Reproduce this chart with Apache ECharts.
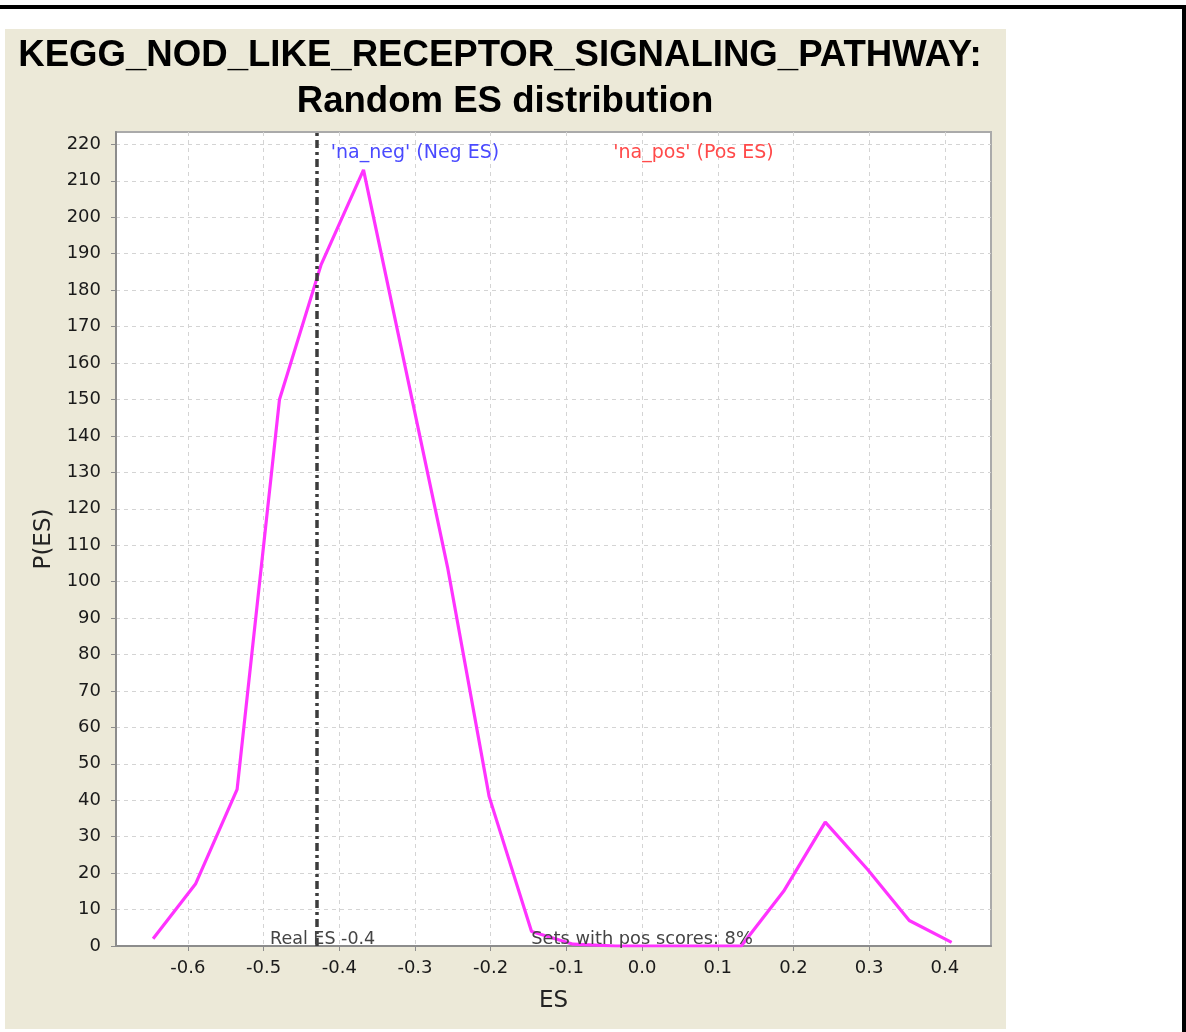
<!DOCTYPE html>
<html>
<head>
<meta charset="utf-8">
<title>KEGG_NOD_LIKE_RECEPTOR_SIGNALING_PATHWAY: Random ES distribution</title>
<script src="https://cdn.jsdelivr.net/npm/echarts@6/dist/echarts.min.js"></script>
<style>
    html, body { margin: 0; padding: 0; background: #fff; }
    #page { position: relative; width: 1186px; height: 1032px; overflow: hidden; }
    #topLine { position: absolute; left: 0; top: 5px; width: 1186px; height: 4px; background: #000; }
    #rightLine { position: absolute; left: 1182px; top: 5px; width: 4px; height: 1027px; background: #000; }
    #esChart { position: absolute; left: 5px; top: 29px; width: 1001px; height: 1000px; }
</style>
</head>
<body>
<div id="page">
    <div id="topLine"></div>
    <div id="rightLine"></div>
    <div id="esChart"></div>
</div>
<script>
    // random ES distribution
    const esValues = [-0.646, -0.590, -0.535, -0.479, -0.424, -0.368, -0.313, -0.257, -0.202, -0.146,
        -0.091, -0.035, 0.020, 0.076, 0.131, 0.187, 0.242, 0.298, 0.353, 0.409];
    const pValues = [2, 17, 43, 150, 187, 213, 159, 104, 41, 4,
        0.5, 0, 0, 0, 0, 15, 34, 21, 7, 1];

    const xTicks = [-0.6, -0.5, -0.4, -0.3, -0.2, -0.1, 0, 0.1, 0.2, 0.3, 0.4];
    const yTicks = [0, 10, 20, 30, 40, 50, 60, 70, 80, 90, 100, 110, 120, 130, 140, 150,
        160, 170, 180, 190, 200, 210, 220];

    const realES = -0.43;
    const titleLines = ['KEGG_NOD_LIKE_RECEPTOR_SIGNALING_PATHWAY:', 'Random ES distribution'];

    const tickFont = 'DejaVu Sans';
    const axisGray = '#8c8c8c';

    let esChart = echarts.init(document.getElementById('esChart'));

    let option = {
        animation: false,
        backgroundColor: '#ece9d8',
        graphic: [
            {
                type: 'text', x: 495, y: 27,
                style: {text: titleLines[0], font: 'bold 36.6px "Liberation Sans"', fill: '#000', align: 'center', verticalAlign: 'middle'}
            },
            {
                type: 'text', x: 500, y: 73,
                style: {text: titleLines[1], font: 'bold 36.6px "Liberation Sans"', fill: '#000', align: 'center', verticalAlign: 'middle'}
            }
        ],
        grid: {
            left: 111,
            top: 103,
            width: 875,
            height: 814,
            show: true,
            backgroundColor: '#fff',
            borderColor: '#aaa',
            borderWidth: 2
        },
        xAxis: {
            type: 'value',
            min: -0.695,
            max: 0.461,
            name: 'ES',
            nameLocation: 'middle',
            nameGap: 44,
            nameTextStyle: {fontFamily: tickFont, fontSize: 23, color: '#222'},
            axisLine: {show: true, onZero: false, lineStyle: {color: axisGray, width: 2}},
            axisTick: {show: true, length: 5, customValues: xTicks, lineStyle: {color: axisGray}},
            axisLabel: {
                customValues: xTicks,
                margin: 13,
                fontFamily: tickFont,
                fontSize: 18,
                color: '#1a1a1a',
                formatter: v => v.toFixed(1)
            },
            splitLine: {show: true, lineStyle: {color: '#d4d4d4', width: 1, type: [4, 4]}}
        },
        yAxis: {
            type: 'value',
            min: 0,
            max: 223.4,
            name: 'P(ES)',
            nameLocation: 'middle',
            nameGap: 59,
            nameTextStyle: {fontFamily: tickFont, fontSize: 23, color: '#222'},
            axisLine: {show: true, onZero: false, lineStyle: {color: axisGray, width: 2}},
            axisTick: {show: true, length: 5, customValues: yTicks, lineStyle: {color: axisGray}},
            axisLabel: {
                customValues: yTicks,
                margin: 15,
                fontFamily: tickFont,
                fontSize: 18,
                color: '#1a1a1a'
            },
            splitLine: {show: true, lineStyle: {color: '#d4d4d4', width: 1, type: [4, 4]}}
        },
        series: [
            {
                type: 'line',
                data: esValues.map((x, i) => [x, pValues[i]]),
                symbol: 'none',
                lineStyle: {color: '#ff33ff', width: 3.2},
                itemStyle: {color: '#ff33ff'},
                markLine: {
                    silent: true,
                    symbol: 'none',
                    label: {show: false},
                    lineStyle: {color: '#3c3c3c', width: 3.5, type: [8, 4, 3, 4]},
                    data: [{xAxis: realES}]
                },
                markPoint: {
                    silent: true,
                    symbol: 'circle',
                    symbolSize: 0,
                    itemStyle: {color: 'transparent'},
                    label: {show: true, position: 'inside', fontFamily: tickFont, fontSize: 19, textBorderWidth: 0},
                    data: [
                        {coord: [-0.3, 217.7], label: {formatter: "'na_neg' (Neg ES)", color: '#4a4aff'}},
                        {coord: [0.068, 217.7], label: {formatter: "'na_pos' (Pos ES)", color: '#ff4a4a'}},
                        {coord: [-0.422, 0], label: {formatter: 'Real ES -0.4', color: '#444', fontSize: 17.5, offset: [0, -7]}},
                        {coord: [0, 0], label: {formatter: 'Sets with pos scores: 8%', color: '#444', fontSize: 17.8, offset: [0, -7]}}
                    ]
                }
            }
        ]
    };

    esChart.setOption(option);
    window.addEventListener('resize', function () {
        esChart.resize();
    });
</script>
</body>
</html>
